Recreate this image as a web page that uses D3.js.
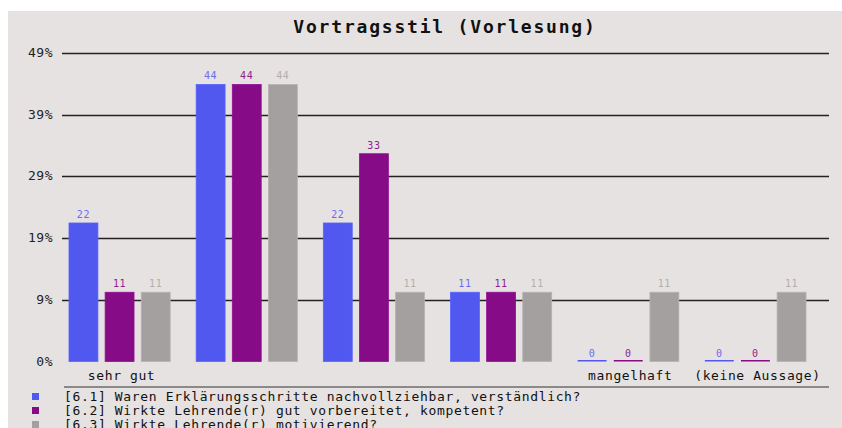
<!DOCTYPE html>
<html>
<head>
<meta charset="utf-8">
<script src="https://cdn.jsdelivr.net/npm/d3@7"></script>
<style>
  body { margin: 0; background: #ffffff; }
  text { font-family: "DejaVu Sans Mono", "Liberation Mono", monospace; }
</style>
</head>
<body>
<div id="chart"></div>
<script>
// Data
const categories = ["sehr gut", "gut", "befriedigend", "ausreichend", "mangelhaft", "(keine Aussage)"];
const shownLabels = ["sehr gut", "", "", "", "mangelhaft", "(keine Aussage)"];
const seriesNames = [
    "[6.1] Waren Erklärungsschritte nachvollziehbar, verständlich?",
    "[6.2] Wirkte Lehrende(r) gut vorbereitet, kompetent?",
    "[6.3] Wirkte Lehrende(r) motivierend?"
];
const s61 = [22, 44, 22, 11, 0, 0];
const s62 = [11, 44, 33, 11, 0, 0];
const s63 = [11, 44, 11, 11, 11, 11];
const tickValues = [0, 9.8, 19.6, 29.4, 39.2, 49];
const tickLabels = ["0%", "9%", "19%", "29%", "39%", "49%"];

const barColors = ["#5058ef", "#860b86", "#a4a09f"];
const labelColors = ["#6a6cf2", "#8c1f8c", "#b2aeae"];

const width = 842;
const height = 428;
const series = [s61, s62, s63];

const svg = d3.select("#chart")
    .append("svg")
    .attr("width", width)
    .attr("height", height);

// panel background
svg.append("rect")
    .attr("x", 8).attr("y", 11)
    .attr("width", width - 8).attr("height", height - 11)
    .attr("fill", "#e6e2e1");

// Title
svg.append("text")
    .attr("x", 445).attr("y", 33)
    .attr("text-anchor", "middle")
    .style("font-size", "18px")
    .style("font-weight", "bold")
    .style("letter-spacing", "1.8px")
    .attr("fill", "#111")
    .text("Vortragsstil (Vorlesung)");

// Scales
const y = d3.scaleLinear()
    .domain([0, 49])
    .range([361.5, 53]);

const x0 = d3.scaleBand()
    .domain(categories)
    .range([56, 819]);

const x1 = d3.scaleBand()
    .domain(d3.range(series.length))
    .range([13, x0.bandwidth() - 13])
    .paddingInner(0.2);

// Gridlines + tick labels
const grid = svg.append("g");
grid.selectAll("line")
    .data(tickValues.slice(1))
    .enter()
    .append("line")
    .attr("x1", 62).attr("x2", 829)
    .attr("y1", d => Math.round(y(d)) + 0.5)
    .attr("y2", d => Math.round(y(d)) + 0.5)
    .attr("stroke", "#222")
    .attr("stroke-width", 1.6);

grid.selectAll("text")
    .data(tickValues)
    .enter()
    .append("text")
    .attr("x", 53)
    .attr("y", d => y(d) + 4)
    .attr("text-anchor", "end")
    .style("font-size", "13px")
    .style("letter-spacing", "0.5px")
    .attr("fill", "#222")
    .text((d, i) => tickLabels[i]);

// Bars
const groups = svg.append("g")
    .selectAll("g")
    .data(categories)
    .enter()
    .append("g")
    .attr("transform", d => `translate(${x0(d)},0)`);

groups.selectAll("rect")
    .data((d, ci) => series.map((s, si) => ({ si: si, v: s[ci] })))
    .enter()
    .append("rect")
    .attr("x", d => x1(d.si))
    .attr("width", x1.bandwidth())
    .attr("y", d => d.v > 0 ? y(d.v) : y(0) - 1.5)
    .attr("height", d => d.v > 0 ? y(0) - y(d.v) : 1.5)
    .attr("fill", d => barColors[d.si])
    .attr("stroke", d => d.v > 0 ? d3.color(barColors[d.si]).brighter(0.3) : "none")
    .attr("stroke-width", 0.8);

groups.selectAll("text.val")
    .data((d, ci) => series.map((s, si) => ({ si: si, v: s[ci] })))
    .enter()
    .append("text")
    .attr("class", "val")
    .attr("x", d => x1(d.si) + x1.bandwidth() / 2)
    .attr("y", d => y(d.v) - 5)
    .attr("text-anchor", "middle")
    .style("font-size", "10px")
    .style("letter-spacing", "0.6px")
    .attr("fill", d => labelColors[d.si])
    .text(d => d.v);

// Category labels
svg.append("g")
    .selectAll("text")
    .data(categories)
    .enter()
    .append("text")
    .attr("x", d => x0(d) + x0.bandwidth() / 2 + 2)
    .attr("y", 380)
    .attr("text-anchor", "middle")
    .style("font-size", "13px")
    .style("letter-spacing", "0.6px")
    .attr("fill", "#111")
    .text((d, i) => shownLabels[i]);

// Bottom rule
svg.append("line")
    .attr("x1", 64).attr("x2", 829)
    .attr("y1", 387).attr("y2", 387)
    .attr("stroke", "#333")
    .attr("stroke-width", 1.2);

// Legend
const legend = svg.append("g")
    .selectAll("g")
    .data(seriesNames)
    .enter()
    .append("g")
    .attr("transform", (d, i) => `translate(0,${397 + i * 14})`);

legend.append("rect")
    .attr("x", 32).attr("y", -4)
    .attr("width", 7).attr("height", 7)
    .attr("fill", (d, i) => barColors[i]);

legend.append("text")
    .attr("x", 64).attr("y", 4)
    .style("font-size", "13px")
    .style("letter-spacing", "0.65px")
    .attr("fill", "#111")
    .text(d => d);
</script>
</body>
</html>
